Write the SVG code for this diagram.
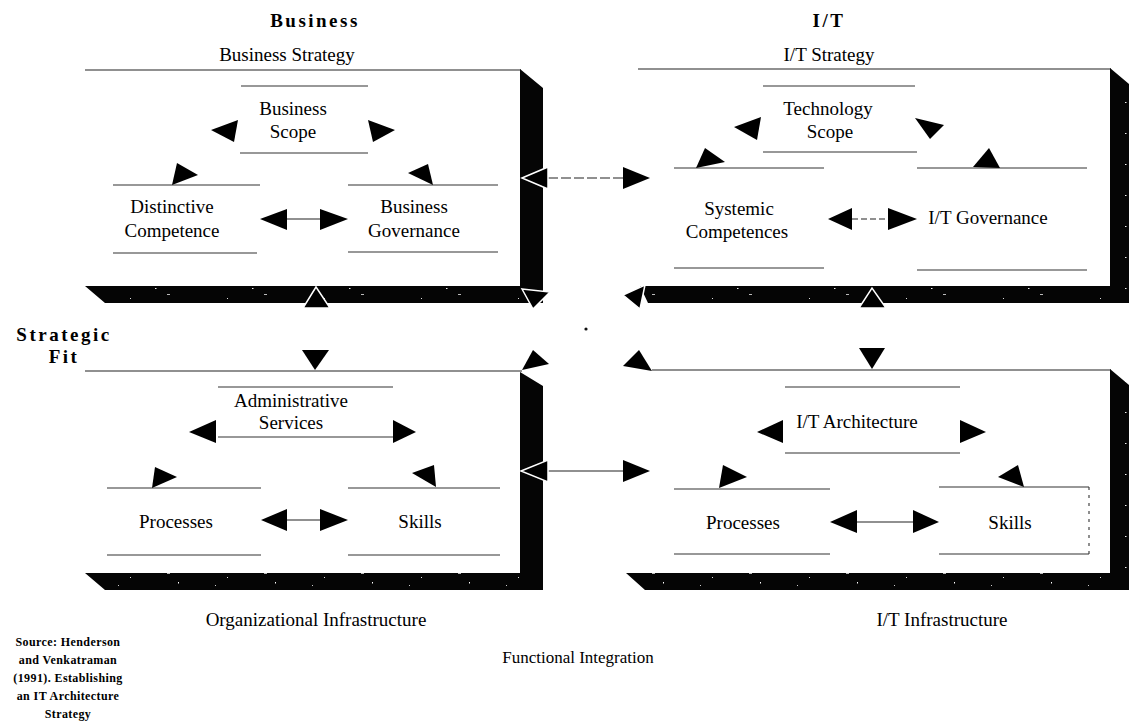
<svg xmlns="http://www.w3.org/2000/svg" width="1129" height="726" viewBox="0 0 1129 726">
<defs>
<pattern id="speck" width="97" height="31" patternUnits="userSpaceOnUse">
<rect width="97" height="31" fill="#050505"/>
<rect x="7" y="5" width="2" height="1" fill="#fff"/>
<rect x="33" y="19" width="1" height="1" fill="#ddd"/>
<rect x="58" y="9" width="1.5" height="1" fill="#eee"/>
<rect x="81" y="24" width="1" height="1.5" fill="#fff"/>
<rect x="21" y="27" width="1" height="1" fill="#ccc"/>
<rect x="70" y="15" width="3" height="1" fill="#bbb"/>
</pattern>
<style>
.frame{stroke:#222;stroke-width:1.2;fill:none}
.band{fill:url(#speck)}
.ln{stroke:#333;stroke-width:1.1;fill:none}
.cn{stroke:#222;stroke-width:1.1;fill:none}
.t{font-family:"Liberation Serif","Times New Roman",serif;font-size:19px;fill:#000;text-anchor:middle}
.tb{font-family:"Liberation Serif","Times New Roman",serif;font-size:19px;font-weight:bold;fill:#000;text-anchor:middle;letter-spacing:2.5px}
.src{font-family:"Liberation Serif","Times New Roman",serif;font-size:12px;font-weight:bold;fill:#000;text-anchor:middle;letter-spacing:0.4px}
.ah{fill:#000}
.ahw{fill:#000;stroke:#fff;stroke-width:1.5}
</style>
</defs>
<rect width="1129" height="726" fill="#fff"/>

<!-- headings -->
<g id="labels">
<text class="tb" x="315" y="27">Business</text>
<text class="tb" x="829" y="27">I/T</text>
<text class="t" x="287" y="61">Business Strategy</text>
<text class="t" x="829" y="61">I/T Strategy</text>
<text class="tb" x="64" y="341">Strategic</text>
<text class="tb" x="64" y="363">Fit</text>
<text class="t" x="316" y="626">Organizational Infrastructure</text>
<text class="t" x="942" y="626">I/T Infrastructure</text>
<text class="t" x="578" y="663" style="font-size:17px">Functional Integration</text>
<text class="src" x="68" y="646">Source: Henderson</text>
<text class="src" x="68" y="664">and Venkatraman</text>
<text class="src" x="68" y="682">(1991). Establishing</text>
<text class="src" x="68" y="700">an IT Architecture</text>
<text class="src" x="68" y="718">Strategy</text>
</g>

<!-- quadrant frames -->
<g id="business-strategy">
<line class="frame" x1="85" y1="70" x2="521" y2="70"/>
<polygon class="band" points="520,69 543,88 543,303 105,303 85,286 520,286"/>
</g>
<g id="it-strategy">
<line class="frame" x1="638" y1="69" x2="1111" y2="69"/>
<polygon class="band" points="1110,68 1129,84 1129,303 648,303 640,286 1110,286"/>
</g>
<g id="organizational-infrastructure">
<line class="frame" x1="85" y1="371" x2="522" y2="371"/>
<polygon class="band" points="520,372 543,386 543,590 105,590 85,573 520,573"/>
</g>
<g id="it-infrastructure">
<line class="frame" x1="652" y1="370" x2="1111" y2="370"/>
<polygon class="band" points="1110,369 1129,385 1129,590 645,590 626,573 1110,573"/>
</g>

<!-- inner nodes -->
<g id="business-scope">
<line class="ln" x1="241" y1="86" x2="368" y2="86"/>
<line class="ln" x1="240" y1="153" x2="368" y2="153"/>
<text class="t" x="293" y="115">Business</text>
<text class="t" x="293" y="138">Scope</text>
</g>
<g id="distinctive-competence">
<line class="ln" x1="113" y1="185" x2="260" y2="185"/>
<line class="ln" x1="113" y1="253" x2="257" y2="253"/>
<text class="t" x="172" y="213">Distinctive</text>
<text class="t" x="172" y="237">Competence</text>
</g>
<g id="business-governance">
<line class="ln" x1="348" y1="185" x2="498" y2="185"/>
<line class="ln" x1="348" y1="252" x2="498" y2="252"/>
<text class="t" x="414" y="213">Business</text>
<text class="t" x="414" y="237">Governance</text>
</g>
<g id="technology-scope">
<line class="ln" x1="763" y1="86" x2="915" y2="86"/>
<line class="ln" x1="763" y1="152" x2="917" y2="152"/>
<text class="t" x="828" y="115">Technology</text>
<text class="t" x="830" y="138">Scope</text>
</g>
<g id="systemic-competences">
<line class="ln" x1="674" y1="168" x2="824" y2="168"/>
<line class="ln" x1="674" y1="268" x2="824" y2="268"/>
<text class="t" x="739" y="215">Systemic</text>
<text class="t" x="737" y="238">Competences</text>
</g>
<g id="it-governance">
<line class="ln" x1="917" y1="168" x2="1087" y2="168"/>
<line class="ln" x1="917" y1="270" x2="1087" y2="270"/>
<text class="t" x="988" y="224">I/T Governance</text>
</g>
<g id="administrative-services">
<line class="ln" x1="218" y1="387" x2="393" y2="387"/>
<line class="ln" x1="218" y1="437" x2="393" y2="437"/>
<text class="t" x="291" y="407">Administrative</text>
<text class="t" x="291" y="429">Services</text>
</g>
<g id="org-processes">
<line class="ln" x1="107" y1="488" x2="261" y2="488"/>
<line class="ln" x1="107" y1="555" x2="261" y2="555"/>
<text class="t" x="176" y="528">Processes</text>
</g>
<g id="org-skills">
<line class="ln" x1="348" y1="488" x2="500" y2="488"/>
<line class="ln" x1="348" y1="555" x2="500" y2="555"/>
<text class="t" x="420" y="528">Skills</text>
</g>
<g id="it-architecture">
<line class="ln" x1="785" y1="387" x2="960" y2="387"/>
<line class="ln" x1="785" y1="453" x2="960" y2="453"/>
<text class="t" x="857" y="428">I/T Architecture</text>
</g>
<g id="it-processes">
<line class="ln" x1="674" y1="489" x2="830" y2="489"/>
<line class="ln" x1="674" y1="554" x2="830" y2="554"/>
<text class="t" x="743" y="529">Processes</text>
</g>
<g id="it-skills">
<line class="ln" x1="939" y1="487" x2="1089" y2="487"/>
<line class="ln" x1="939" y1="554" x2="1089" y2="554"/>
<line class="ln" x1="1089" y1="487" x2="1089" y2="554" stroke-dasharray="3 5" stroke-width="0.8"/>
<text class="t" x="1010" y="529">Skills</text>
</g>

<!-- connectors -->
<g id="connectors">
<polygon class="ah" points="211,130 238,120 234,142"/>
<polygon class="ah" points="368,120 395,130 373,142"/>
<polygon class="ah" points="172,185 177,163 198,175"/>
<polygon class="ah" points="408,173 428,164 433,185"/>
<line class="cn" x1="287" y1="219" x2="320" y2="219"/>
<polygon class="ah" points="260,219 287,209 287,230"/>
<polygon class="ah" points="348,219 320,209 320,230"/>
<polygon class="ah" points="734,127 761,117 757,140"/>
<polygon class="ah" points="915,118 944,125 930,139"/>
<polygon class="ah" points="696,168 705,148 725,162"/>
<polygon class="ah" points="973,167 989,148 1000,168"/>
<line class="cn" x1="852" y1="219" x2="888" y2="219" stroke-dasharray="6 3"/>
<polygon class="ah" points="828,219 852,208 852,230"/>
<polygon class="ah" points="917,219 888,208 888,230"/>
<polygon class="ah" points="189,432 216,420 216,443"/>
<polygon class="ah" points="416,432 393,420 393,443"/>
<polygon class="ah" points="152,488 155,467 177,477"/>
<polygon class="ah" points="412,473 434,465 436,487"/>
<line class="cn" x1="287" y1="520" x2="320" y2="520"/>
<polygon class="ah" points="261,520 287,509 287,531"/>
<polygon class="ah" points="348,520 320,509 320,531"/>
<polygon class="ah" points="757,432 783,420 783,443"/>
<polygon class="ah" points="986,432 960,420 960,443"/>
<polygon class="ah" points="719,488 723,465 747,477"/>
<polygon class="ah" points="998,477 1018,465 1024,487"/>
<line class="cn" x1="857" y1="522" x2="913" y2="522"/>
<polygon class="ah" points="830,522 857,510 857,533"/>
<polygon class="ah" points="939,522 913,510 913,533"/>
<line class="cn" x1="548" y1="178" x2="623" y2="178" stroke-dasharray="10 3"/>
<polygon class="ahw" points="522,178 548,167 548,189"/>
<polygon class="ah" points="650,178 623,167 623,189"/>
<line class="cn" x1="548" y1="471" x2="623" y2="471"/>
<polygon class="ahw" points="521,471 548,460 548,482"/>
<polygon class="ah" points="650,471 623,460 623,482"/>
<polygon class="ahw" points="303,308 330,308 316,287"/>
<polygon class="ah" points="302,350 329,350 315,370"/>
<polygon class="ahw" points="859,308 886,308 872,288"/>
<polygon class="ah" points="859,348 885,348 872,369"/>
<polygon class="ahw" points="522,289 550,292 533,309"/>
<polygon class="ahw" points="623,295 645,285 640,309"/>
<polygon class="ah" points="522,370 533,350 549,364"/>
<polygon class="ah" points="623,366 639,350 652,371"/>
</g>
<circle cx="586" cy="329" r="1.6" fill="#111"/>
</svg>
